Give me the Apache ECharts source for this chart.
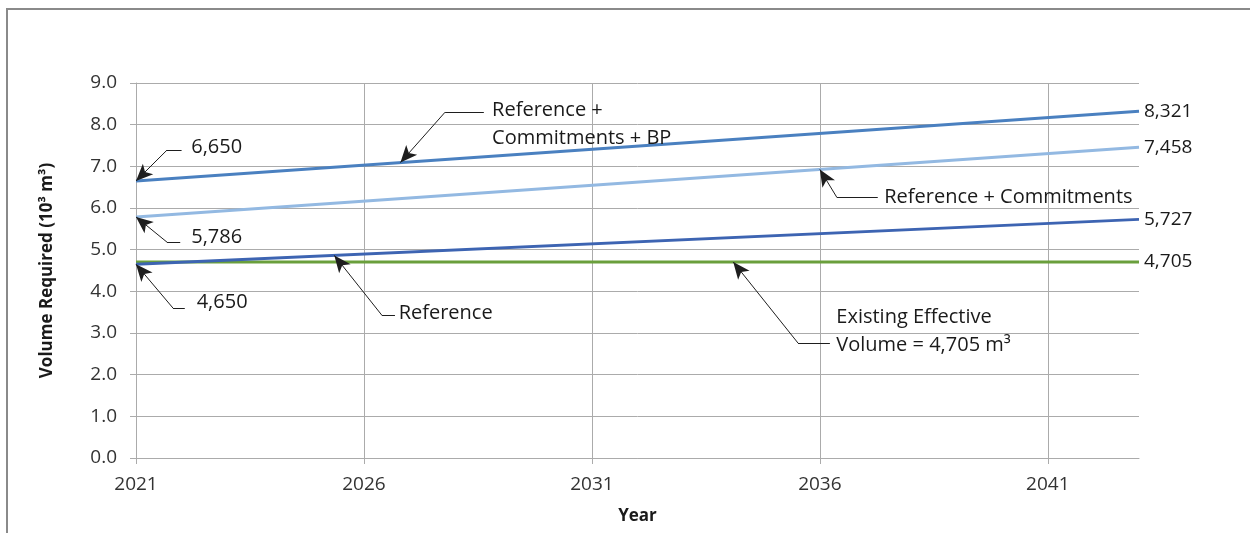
<!DOCTYPE html>
<html>
<head>
<meta charset="utf-8">
<script src="https://cdn.jsdelivr.net/npm/echarts@6/dist/echarts.min.js"></script>
<style>
  html, body { margin: 0; padding: 0; background: #fff; }
  #chart { width: 1250px; height: 533px; }
</style>
</head>
<body>
<div id="chart"></div>
<script>
// Volume required projections (10^3 m^3), start and end year of each scenario
const years = [2021, 2043];
const refCommitBP = [6.650, 8.321];
const refCommit = [5.786, 7.458];
const reference = [4.650, 5.727];
const existing = [4.705, 4.705];

const yearTicks = [2021, 2026, 2031, 2036, 2041];
const seriesNames = ['Reference + Commitments + BP', 'Reference + Commitments', 'Reference', 'Existing Effective Volume'];

const FONT = '"Open Sans", "Noto Sans", sans-serif';
const fmtVol = v => Math.round(v * 1000).toLocaleString('en-US');

function pairs(vals) { return years.map((y, i) => [y, vals[i]]); }
// point on a straight projection line at a given year (used to anchor callout arrows)
function onLine(vals, year) {
  return vals[0] + (vals[1] - vals[0]) * (year - years[0]) / (years[1] - years[0]);
}

// leader: arrow tip on a line -> elbow -> short horizontal run toward the label
function leader(tip, elbow, end) {
  return [
    [{ coord: tip, symbol: 'arrow' }, { coord: elbow, symbol: 'none' }],
    [{ coord: elbow, symbol: 'none' }, { coord: end, symbol: 'none' }]
  ];
}

const leaders = [].concat(
  leader([years[0], refCommitBP[0]], [2021.68, 7.39], [2022.0, 7.39]),
  leader([years[0], refCommit[0]], [2021.68, 5.18], [2021.97, 5.18]),
  leader([years[0], reference[0]], [2021.81, 3.60], [2022.07, 3.60]),
  leader([2026.8, onLine(refCommitBP, 2026.8)], [2027.78, 8.30], [2028.63, 8.30]),
  leader([2036, onLine(refCommit, 2036)], [2036.37, 6.26], [2037.27, 6.26]),
  leader([2025.35, onLine(reference, 2025.35)], [2026.39, 3.43], [2026.68, 3.43]),
  leader([2034.1, onLine(existing, 2034.1)], [2035.52, 2.76], [2036.22, 2.76])
);

const notes = [
  { coord: [2022.2, 7.46], text: fmtVol(refCommitBP[0]) },
  { coord: [2022.2, 5.30], text: fmtVol(refCommit[0]) },
  { coord: [2022.32, 3.74], text: fmtVol(reference[0]) },
  { coord: [2028.8, 8.02], text: 'Reference +\nCommitments + BP' },
  { coord: [2037.4, 6.26], text: 'Reference + Commitments' },
  { coord: [2026.75, 3.47], text: 'Reference' },
  { coord: [2036.35, 3.05], text: 'Existing Effective\nVolume = ' + fmtVol(existing[0]) + ' m\u00B3' }
];

function lineSeries(name, vals, color) {
  return {
    name: name,
    type: 'line',
    data: pairs(vals),
    showSymbol: false,
    symbol: 'none',
    lineStyle: { color: color, width: 3 },
    itemStyle: { color: color },
    endLabel: {
      show: true,
      formatter: p => fmtVol(p.value[1]),
      fontFamily: FONT, fontSize: 19, color: '#1a1a1a', distance: 5
    },
    silent: true,
    animation: false
  };
}

const chart = echarts.init(document.getElementById('chart'), null, { renderer: 'canvas' });
const gridColor = '#ababab';

chart.setOption({
  backgroundColor: '#fff',
  animation: false,
  graphic: [{
    type: 'polyline',
    shape: { points: [[7, 533], [7, 9], [1250, 9]] },
    style: { stroke: '#8a8a8a', lineWidth: 2, fill: null },
    silent: true
  }],
  grid: { left: 136, right: 111, top: 83, bottom: 75 },
  xAxis: {
    type: 'value',
    min: 2021, max: 2043, interval: 5,
    name: 'Year',
    nameLocation: 'middle',
    nameGap: 50,
    nameTextStyle: { fontFamily: FONT, fontSize: 17, fontWeight: 'bold', color: '#1a1a1a' },
    axisLine: { show: true, lineStyle: { color: gridColor, width: 1 } },
    axisTick: { show: true, length: 6, customValues: yearTicks, lineStyle: { color: gridColor } },
    axisLabel: { customValues: yearTicks, formatter: v => String(v), fontFamily: FONT, fontSize: 19, color: '#333', margin: 17 },
    splitLine: { show: true, lineStyle: { color: gridColor, width: 1 } }
  },
  yAxis: {
    type: 'value',
    min: 0, max: 9, interval: 1,
    name: 'Volume Required (10\u00B3 m\u00B3)',
    nameLocation: 'middle',
    nameGap: 80,
    nameRotate: 90,
    nameTextStyle: { fontFamily: FONT, fontSize: 17, fontWeight: 'bold', color: '#1a1a1a' },
    axisLine: { show: true, lineStyle: { color: gridColor, width: 1 } },
    axisTick: { show: true, length: 6, lineStyle: { color: gridColor } },
    axisLabel: { formatter: v => v.toFixed(1), fontFamily: FONT, fontSize: 19, color: '#333', margin: 19 },
    splitLine: { show: true, lineStyle: { color: gridColor, width: 1 } }
  },
  series: [
    lineSeries(seriesNames[3], existing, '#6a9f3c'),
    lineSeries(seriesNames[2], reference, '#3d64b2'),
    lineSeries(seriesNames[1], refCommit, '#93b9e2'),
    lineSeries(seriesNames[0], refCommitBP, '#4a80c0'),
    {
      name: 'callouts',
      type: 'line',
      data: [],
      silent: true,
      animation: false,
      markLine: {
        silent: true,
        animation: false,
        symbolSize: [11, 17],
        label: { show: false },
        lineStyle: { color: '#1e1e1e', width: 1, type: 'solid' },
        emphasis: { disabled: true },
        data: leaders
      },
      markPoint: {
        silent: true,
        animation: false,
        symbol: 'rect',
        symbolSize: 1,
        itemStyle: { color: 'rgba(0,0,0,0)' },
        label: {
          show: true,
          position: 'right',
          distance: 0,
          fontFamily: FONT,
          fontSize: 20,
          lineHeight: 28,
          color: '#1a1a1a',
          formatter: p => p.data.text
        },
        data: notes
      }
    }
  ]
});
</script>
</body>
</html>
